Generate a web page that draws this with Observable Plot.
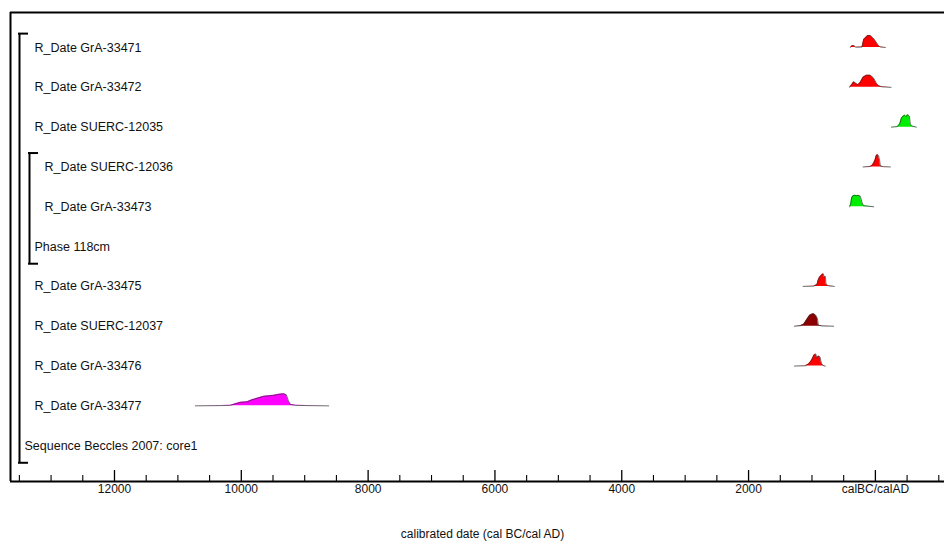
<!DOCTYPE html>
<html><head><meta charset="utf-8">
<script src="https://cdn.jsdelivr.net/npm/d3@7"></script>
<script src="https://cdn.jsdelivr.net/npm/@observablehq/plot@0.6"></script>
<style>html,body{margin:0;padding:0;background:#fff;} #chart svg{display:block}</style>
</head><body><div id="chart"></div>
<script>
// Row labels (top to bottom) and nesting depth
const rowLabels = ["R_Date GrA-33471","R_Date GrA-33472","R_Date SUERC-12035","R_Date SUERC-12036","R_Date GrA-33473","Phase 118cm","R_Date GrA-33475","R_Date SUERC-12037","R_Date GrA-33476","R_Date GrA-33477","Sequence Beccles 2007: core1"];
const rowDepths = [1,1,1,2,2,1,1,1,1,1,0];
const groupNames = ["Sequence Beccles 2007: core1","Phase 118cm"];
const groupFirstRow = [0,3];
const groupLastRow = [10,5];
const groupDepth = [0,1];

// Axis ticks (cal BC, negative = AD)
const majorTicks = [12000,10000,8000,6000,4000,2000,0];
const minorTicks = [13500,13000,12500,11500,11000,10500,9500,9000,8500,7500,7000,6500,5500,5000,4500,3500,3000,2500,1500,1000,500,-500,-1000];
const xDomain = [13640, -1090];
const yDomain = [-0.88, 10.9];

// Distributions: calendar year BC and relative probability
const gra33471Year = [394,363,331,310,210,184,153,121,79,47,16,-16,-47,-79,-158];
const gra33471Prob = [0,0.16,0.12,0.02,0.04,0.64,0.8,0.96,0.96,0.8,0.64,0.4,0.16,0.04,0];
const gra33472Year = [405,368,342,310,273,237,194,142,79,26,-16,-52,-106,-248];
const gra33472Prob = [0,0.24,0.44,0.32,0.2,0.4,0.8,0.96,0.96,0.72,0.32,0.12,0.04,0];
const suerc12035Year = [-252,-342,-383,-410,-437,-462,-484,-509,-536,-552,-583,-647];
const suerc12035Prob = [0,0.04,0.24,0.72,0.88,0.96,0.84,1,0.88,0.24,0.08,0];
const suerc12036Year = [194,79,47,26,5,-11,-32,-52,-68,-79,-131,-237];
const suerc12036Prob = [0,0.04,0.16,0.32,0.56,0.88,1,0.88,0.48,0.08,0.02,0];
const gra33473Year = [405,389,374,352,326,300,273,237,210,184,26];
const gra33473Prob = [0,0.24,0.72,0.88,0.92,0.88,0.92,0.84,0.32,0.08,0];
const gra33475Year = [1140,973,920,904,883,862,841,820,804,789,778,736,647];
const gra33475Prob = [0,0.02,0.16,0.48,0.72,0.84,0.96,1,0.72,0.8,0.16,0.04,0];
const suerc12037Year = [1277,1183,1130,1099,1068,1036,1005,973,941,915,899,841,658];
const suerc12037Prob = [0,0.04,0.16,0.4,0.64,0.88,0.96,1,0.88,0.64,0.08,0.02,0];
const gra33476Year = [1277,1104,1052,1014,989,967,941,920,899,873,852,825,789];
const gra33476Prob = [0,0.02,0.16,0.4,0.64,0.88,0.96,0.64,0.8,0.72,0.24,0.04,0];
const gra33477Year = [10725,10330,10172,10093,10015,9909,9831,9725,9646,9568,9489,9410,9331,9289,9257,9226,9147,8962,8621];
const gra33477Prob = [0,0.02,0.04,0.16,0.28,0.32,0.48,0.64,0.76,0.8,0.84,0.92,0.96,0.88,0.4,0.12,0.04,0.02,0];

const dates = [
  {label: "R_Date GrA-33471", color: "#ff0000", year: gra33471Year, prob: gra33471Prob},
  {label: "R_Date GrA-33472", color: "#ff0000", year: gra33472Year, prob: gra33472Prob},
  {label: "R_Date SUERC-12035", color: "#00ee00", year: suerc12035Year, prob: suerc12035Prob},
  {label: "R_Date SUERC-12036", color: "#ff0000", year: suerc12036Year, prob: suerc12036Prob},
  {label: "R_Date GrA-33473", color: "#00ee00", year: gra33473Year, prob: gra33473Prob},
  {label: "R_Date GrA-33475", color: "#ff0000", year: gra33475Year, prob: gra33475Prob},
  {label: "R_Date SUERC-12037", color: "#8b0000", year: suerc12037Year, prob: suerc12037Prob},
  {label: "R_Date GrA-33476", color: "#ff0000", year: gra33476Year, prob: gra33476Prob},
  {label: "R_Date GrA-33477", color: "#ff00ff", year: gra33477Year, prob: gra33477Prob}
];

const peakScale = 0.315; // fraction of a row occupied by maximum probability
const points = dates.flatMap(d => {
  const row = rowLabels.indexOf(d.label);
  return d.year.map((y, i) => ({label: d.label, color: d.color, row, year: y, top: row - d.prob[i] * peakScale}));
});
const rows = rowLabels.map((label, row) => ({label, row, depth: rowDepths[row]}));
const groups = groupNames.map((name, i) => ({name, first: groupFirstRow[i], last: groupLastRow[i], depth: groupDepth[i]}));

const W = 944, H = 542, mL = 10, mR = 0, mT = 12, mB = 61;
const plotW = W - mL - mR, plotH = H - mT - mB;
const font = "'Liberation Sans', Arial, Helvetica, sans-serif";

const bracketMarks = groups.flatMap(g => {
  const off = 9 + 10 * g.depth;
  const yTop = g.first - 0.35, yBot = g.last + 0.43;
  return [
    Plot.ruleX([xDomain[0]], {y1: yTop, y2: yBot, dx: off, stroke: "#000", strokeWidth: 2}),
    Plot.ruleY([yTop, yBot], {insetLeft: off - 1, insetRight: plotW - off - 9, stroke: "#000", strokeWidth: 2})
  ];
});

const labelMarks = [0,1,2].map(depth => Plot.text(rows.filter(r => r.depth === depth), {
  y: "row", text: "label", frameAnchor: "left", dx: 14 + 10 * depth, textAnchor: "start",
  fontSize: 12.5, fill: "#111"
}));

const chart = Plot.plot({
  width: W, height: H,
  marginLeft: mL, marginRight: mR, marginTop: mT, marginBottom: mB,
  style: {fontFamily: font, fontSize: "12px", background: "#fff", color: "#111"},
  x: {domain: xDomain, ticks: majorTicks, tickFormat: d => d === 0 ? "calBC/calAD" : String(d), tickSize: 0, tickPadding: 3, label: null},
  y: {domain: yDomain, reverse: true, axis: null},
  marks: [
    Plot.areaY(points, {x: "year", y1: "row", y2: "top", z: "label", fill: "color", curve: "linear"}),
    Plot.line(points, {x: "year", y: "top", z: "label", stroke: "#333", strokeWidth: 0.7, curve: "linear"}),
    ...bracketMarks,
    ...labelMarks,
    Plot.ruleX(majorTicks, {insetTop: plotH - 11, stroke: "#000", strokeWidth: 1.3}),
    Plot.ruleX(minorTicks, {insetTop: plotH - 6, stroke: "#000", strokeWidth: 1.1}),
    Plot.ruleY([yDomain[0]], {stroke: "#000", strokeWidth: 2}),
    Plot.ruleY([yDomain[1]], {stroke: "#000", strokeWidth: 2}),
    Plot.ruleX([xDomain[0]], {stroke: "#000", strokeWidth: 2}),
    Plot.text(["calibrated date (cal BC/cal AD)"], {frameAnchor: "bottom", dy: 56, dx: 5, fontSize: 12, fill: "#111"})
  ]
});
document.getElementById("chart").appendChild(chart);
</script></body></html>
